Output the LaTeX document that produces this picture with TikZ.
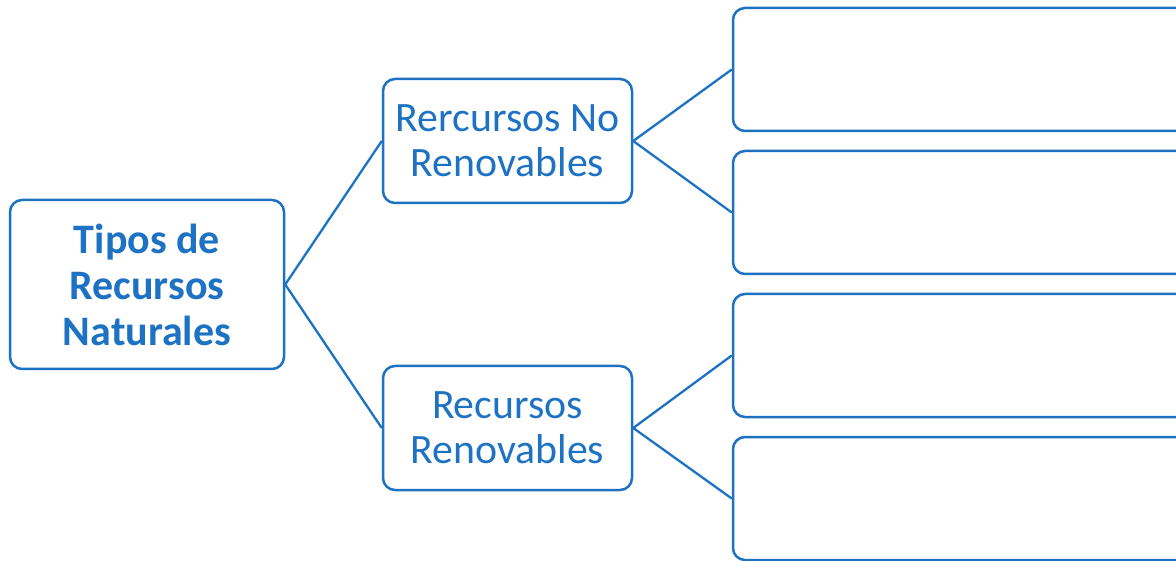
\documentclass[tikz,border=0pt]{standalone}
\usepackage{fontspec}
\setmainfont{Carlito}
\definecolor{bl}{RGB}{30,114,196}
\begin{document}
\begin{tikzpicture}[x=1pt,y=-1pt,
  box/.style={draw=bl,line width=2.5pt,rounded corners=12pt,fill=white,inner sep=0pt,align=center,text=bl},
  conn/.style={draw=bl,line width=2.3pt}]
\useasboundingbox (0,0) rectangle (1176,561);
\clip (0,0) rectangle (1176,561);
\node[box,minimum width=274pt,minimum height=169pt,font=\bfseries\fontsize{42}{46}\selectfont] (root) at (147,284.5) {Tipos de\\Recursos\\Naturales};
\node[box,minimum width=249pt,minimum height=124pt,font=\fontsize{41.8}{45}\selectfont] (m1) at (507.5,141) {Rercursos No\\Renovables};
\node[box,minimum width=249pt,minimum height=124pt,font=\fontsize{41.8}{45}\selectfont] (m2) at (507.5,428) {Recursos\\Renovables};
\node[box,minimum width=470pt,minimum height=123pt] (r1) at (968,69.5) {};
\node[box,minimum width=470pt,minimum height=123pt] (r2) at (968,212.5) {};
\node[box,minimum width=470pt,minimum height=123pt] (r3) at (968,355.5) {};
\node[box,minimum width=470pt,minimum height=123pt] (r4) at (968,498.5) {};
\draw[conn] (root.east) -- (m1.west);
\draw[conn] (root.east) -- (m2.west);
\draw[conn] (m1.east) -- (r1.west);
\draw[conn] (m1.east) -- (r2.west);
\draw[conn] (m2.east) -- (r3.west);
\draw[conn] (m2.east) -- (r4.west);
\end{tikzpicture}
\end{document}
